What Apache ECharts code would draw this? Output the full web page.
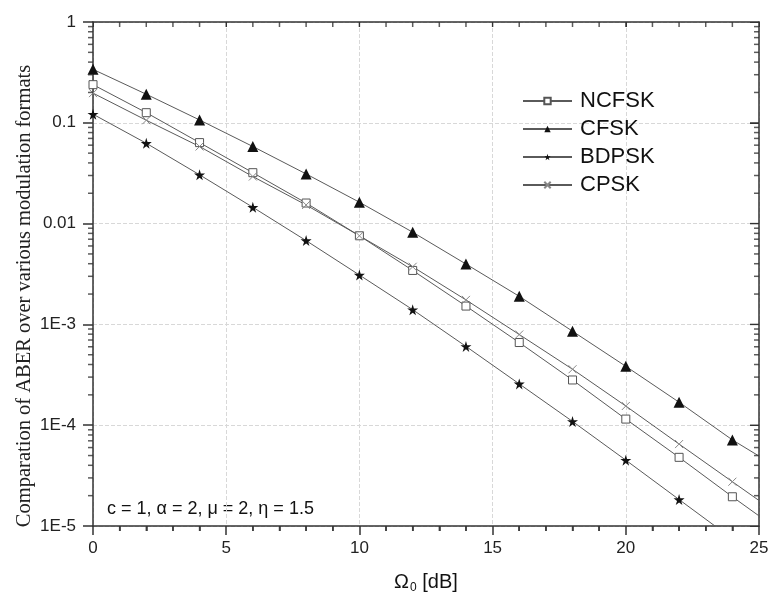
<!DOCTYPE html>
<html>
<head>
<meta charset="utf-8">
<script src="https://cdn.jsdelivr.net/npm/echarts@6/dist/echarts.min.js"></script>
<style>html,body{margin:0;padding:0;background:#fff}#chart{width:772px;height:599px}</style>
</head>
<body>
<div id="chart"></div>
<script>
// ---- data ----
var xValues = [0, 2, 4, 6, 8, 10, 12, 14, 16, 18, 20, 22, 24, 25];
var ncfsk = [0.239, 0.126, 0.0636, 0.0320, 0.0160, 0.00757, 0.00343, 0.00152, 6.61e-4, 2.81e-4, 1.15e-4, 4.80e-5, 1.95e-5, 1.26e-5];
var cfsk  = [0.339, 0.192, 0.1067, 0.0582, 0.0311, 0.0163, 0.00822, 0.00397, 0.00190, 8.56e-4, 3.84e-4, 1.69e-4, 7.15e-5, 4.94e-5];
var bdpsk = [0.1217, 0.0627, 0.0305, 0.01452, 0.00678, 0.00309, 0.00140, 6.05e-4, 2.57e-4, 1.09e-4, 4.50e-5, 1.83e-5, 7.46e-6, 4.8e-6];
var cpsk  = [0.197, 0.106, 0.0582, 0.0293, 0.0153, 0.00757, 0.00373, 0.00175, 7.94e-4, 3.59e-4, 1.55e-4, 6.50e-5, 2.75e-5, 1.79e-5];
var seriesNames = ['NCFSK', 'CFSK', 'BDPSK', 'CPSK'];
var yTickLabels = ['1E-5', '1E-4', '1E-3', '0.01', '0.1', '1'];
var xTickLabels = ['0', '5', '10', '15', '20', '25'];
var yMinorMultipliers = [2, 3, 4, 5, 6, 7, 8, 9];
var yDecades = [-5, -4, -3, -2, -1];
var annotation = 'c = 1, \u03b1 = 2, \u03bc = 2, \u03b7 = 1.5';
var yTitle = 'Comparation of ABER over various modulation formats';

// ---- build ----
var yMinorTicks = [];
yDecades.forEach(function (e) {
  yMinorMultipliers.forEach(function (m) {
    var v = m * Math.pow(10, e);
    yMinorTicks.push([0, v]);
    yMinorTicks.push([25, v]);
  });
});
var rightMajorTicks = yDecades.slice(1).map(function (e) { return [25, Math.pow(10, e)]; });
var bottomMinorTicks = [], topTicks = [];
for (var xi = 1; xi < 25; xi++) {
  topTicks.push([xi, 1]);
  if (xi % 5 !== 0) bottomMinorTicks.push([xi, 1e-5]);
}

function pairs(vals) {
  return xValues.map(function (x, i) {
    var item = { value: [x, vals[i]] };
    if (x === 25) item.symbol = 'none';
    return item;
  });
}

var starPath = 'path://M50,0 L61,35 L98,35 L68,57 L79,91 L50,70 L21,91 L32,57 L2,35 L39,35 Z';
var crossPath = 'path://M0,0 L10,10 M10,0 L0,10';
var lineCol = '#5a5a5a';
var font = '"Liberation Sans", Arial, sans-serif';

function lineSeries(name, vals, symbol, size, itemStyle) {
  return {
    name: name, type: 'line', data: pairs(vals),
    xAxisIndex: 0, yAxisIndex: 0,
    symbol: symbol, symbolSize: size, showAllSymbol: true,
    clip: true,
    lineStyle: { color: lineCol, width: 1 },
    itemStyle: itemStyle,
    emphasis: { disabled: true },
    z: 3
  };
}

function tickSeries(data, size, offset) {
  return {
    type: 'scatter', data: data, xAxisIndex: 0, yAxisIndex: 0,
    symbol: 'rect', symbolSize: size, symbolOffset: offset,
    itemStyle: { color: '#333' }, clip: false, silent: true, z: 6,
    emphasis: { disabled: true }
  };
}

var chart = echarts.init(document.getElementById('chart'), null, { renderer: 'canvas' });

var option = {
  animation: false,
  backgroundColor: '#fff',
  grid: { left: 93, right: 13, top: 22, bottom: 56 },
  legend: {
    data: seriesNames,
    orient: 'vertical',
    left: 517, top: 85,
    itemWidth: 49, itemHeight: 8, itemGap: 6,
    textStyle: { fontFamily: font, fontSize: 22, color: '#111', lineHeight: 22, padding: [0, 0, 0, 3] },
    selectedMode: false
  },
  xAxis: [{
    type: 'value', position: 'bottom', min: 0, max: 25, interval: 5,
    name: '\u03a9{sub|0} [dB]', nameLocation: 'middle', nameGap: 44,
    nameTextStyle: { fontFamily: font, fontSize: 20, color: '#111',
      rich: { sub: { fontFamily: font, fontSize: 12, color: '#111', verticalAlign: 'bottom', padding: [12, 0, 0, 1] } } },
    axisLine: { show: true, onZero: false, lineStyle: { color: '#333', width: 1.5 } },
    axisTick: { show: true, inside: false, length: 9, lineStyle: { color: '#333', width: 1.5 } },
    minorTick: { show: true, splitNumber: 5, length: 5, lineStyle: { color: '#333', width: 1.5 } },
    axisLabel: { fontFamily: font, fontSize: 17, color: '#222', margin: 14,
      formatter: function (v) { return xTickLabels[Math.round(v / 5)]; } },
    splitLine: { show: true, lineStyle: { color: '#d8d8d8', type: 'dashed', width: 1 } }
  }, {
    type: 'value', position: 'top', min: 0, max: 25, interval: 5,
    axisLine: { show: true, onZero: false, lineStyle: { color: '#333', width: 1.5 } },
    axisTick: { show: true, inside: true, length: 5 },
    axisLabel: { show: false },
    splitLine: { show: false }
  }],
  yAxis: [{
    type: 'log', logBase: 10, min: 1e-5, max: 1, position: 'left',
    axisLine: { show: true, onZero: false, lineStyle: { color: '#333', width: 1.5 } },
    axisTick: { show: true, inside: false, length: 10, lineStyle: { color: '#333', width: 1.5 } },
    axisLabel: { fontFamily: font, fontSize: 17, color: '#222', margin: 17,
      formatter: function (v) { return yTickLabels[Math.round(Math.log10(v)) + 5]; } },
    splitLine: { show: true, lineStyle: { color: '#d8d8d8', type: 'dashed', width: 1 } }
  }, {
    type: 'log', logBase: 10, min: 1e-5, max: 1, position: 'right',
    axisLine: { show: true, onZero: false, lineStyle: { color: '#333', width: 1.5 } },
    axisTick: { show: true, inside: true, length: 9 },
    axisLabel: { show: false },
    splitLine: { show: false }
  }],
  graphic: [{
    type: 'text', x: 25, y: 296, rotation: Math.PI / 2,
    style: { text: yTitle, fontFamily: '"Liberation Serif", "Times New Roman", serif', fontSize: 20.5,
      fill: '#222', align: 'center', verticalAlign: 'middle' }
  }, {
    type: 'text', left: 107, top: 500,
    style: { text: annotation, fontFamily: font, fontSize: 18, fill: '#111' }
  }],
  series: [
    lineSeries('NCFSK', ncfsk, 'rect', 8, { color: '#fff', borderColor: '#555', borderWidth: 1 }),
    lineSeries('CFSK', cfsk, 'triangle', 11, { color: '#111' }),
    lineSeries('BDPSK', bdpsk, starPath, 11, { color: '#111' }),
    lineSeries('CPSK', cpsk, crossPath, 8, { color: '#888', borderColor: '#888', borderWidth: 1 }),
    tickSeries(yMinorTicks, [5, 1.5], [-2.5, 0]),
    tickSeries(rightMajorTicks, [9, 1.5], [-4.5, 0]),
    tickSeries(bottomMinorTicks, [1.5, 5], [0, 2.5]),
    tickSeries(topTicks, [1.5, 5], [0, 2.5])
  ]
};
chart.setOption(option);
</script>
</body>
</html>
